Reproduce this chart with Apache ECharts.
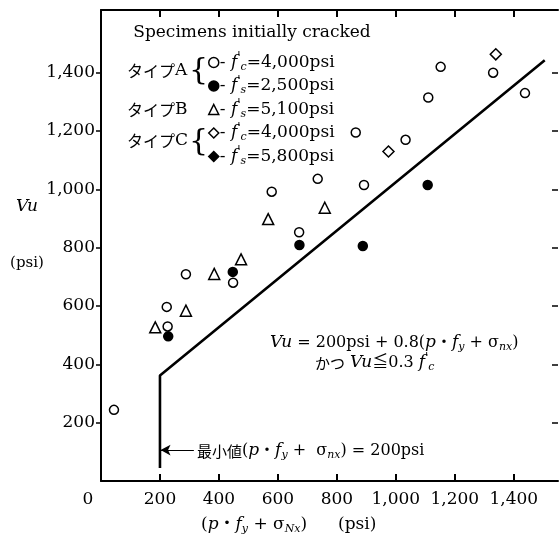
<!DOCTYPE html>
<html>
<head>
<meta charset="utf-8">
<script src="https://cdn.jsdelivr.net/npm/echarts@6/dist/echarts.min.js"></script>
<style>
  html, body { margin: 0; padding: 0; background: #fff; }
  #chart { width: 560px; height: 543px; }
</style>
</head>
<body>
<div id="chart"></div>
<script>
  // 読み取り値 (p·fy + σnx, Vu) psi
  const openCircleA = [[44, 244], [223, 597], [226, 530], [288, 709], [448, 680], [579, 992], [672, 853],
    [735, 1036], [864, 1195], [892, 1015], [1033, 1170], [1110, 1315], [1152, 1420], [1330, 1400], [1438, 1330]];
  const filledCircleA = [[228, 496], [447, 717], [673, 809], [888, 806], [1108, 1015]];
  const triangleB = [[184, 527], [288, 584], [384, 710], [475, 760], [567, 898], [759, 937]];
  const openDiamondC = [[975, 1130], [1339, 1463]];
  const filledDiamondC = [];
  const designLine = [[200, 45], [200, 362], [1505, 1443]];
  const minArrow = [[315, 106], [202, 106]];
  const xTicks = [0, 200, 400, 600, 800, 1000, 1200, 1400];
  const yTicks = [200, 400, 600, 800, 1000, 1200, 1400];
  const legendLabels = [
    '- {i|f}{sp|\'}{sb|c}=4,000psi',
    '- {i|f}{sp|\'}{sb|s}=2,500psi',
    '- {i|f}{sp|\'}{sb|s}=5,100psi',
    '- {i|f}{sp|\'}{sb|c}=4,000psi',
    '- {i|f}{sp|\'}{sb|s}=5,800psi'
  ];
  const seriesNames = ['A-c', 'A-s', 'B-s', 'C-c', 'C-s'];

  const serif = "'DejaVu Serif', 'Noto Sans CJK JP', serif";
  const cjk = "'Noto Sans CJK JP'";
  const rich = {
    i: { fontStyle: 'italic', fontFamily: serif, fontSize: 17 },
    sp: { fontFamily: serif, fontSize: 12, padding: [0, 0, 9, 0] },
    sb: { fontStyle: 'italic', fontFamily: serif, fontSize: 11, padding: [9, 0, 0, 0] },
    z: { fontFamily: serif, fontSize: 17, color: '#000', padding: [0, 26, 0, 0] },
    j: { fontFamily: cjk, fontSize: 16 },
    j15: { fontFamily: cjk, fontSize: 15 }
  };

  const chart = echarts.init(document.getElementById('chart'), null, { renderer: 'canvas' });

  function scatter(name, data, symbol, fill) {
    return {
      name: name,
      type: 'scatter',
      data: data,
      symbol: symbol,
      symbolSize: symbol === 'circle' ? 9 : 11,
      itemStyle: { color: fill, borderColor: '#000', borderWidth: 1.5, opacity: 1 },
      z: 3
    };
  }

  function txt(text, x, y, opts) {
    return {
      type: 'text',
      x: x,
      y: y,
      style: Object.assign({
        text: text,
        fontFamily: serif,
        fontSize: 17,
        fill: '#000',
        align: 'left',
        verticalAlign: 'middle',
        rich: rich
      }, opts || {})
    };
  }

  const frameLine = { show: true, onZero: false, lineStyle: { color: '#000', width: 2 } };

  chart.setOption({
    animation: false,
    backgroundColor: '#fff',
    grid: { left: 101, right: 2, top: 10, bottom: 62 },
    xAxis: [{
      type: 'value',
      min: 0,
      max: 1550,
      interval: 200,
      position: 'bottom',
      axisLine: frameLine,
      axisTick: { show: true, inside: true, length: 7, lineStyle: { color: '#000', width: 2 },
        customValues: xTicks.slice(1) },
      axisLabel: {
        color: '#000', fontFamily: serif, fontSize: 17, margin: 10,
        customValues: xTicks,
        formatter: function (v) {
          return v === 0 ? '{z|0}' : v.toLocaleString('en-US');
        },
        rich: rich
      },
      splitLine: { show: false }
    }, {
      type: 'value',
      min: 0,
      max: 1550,
      interval: 200,
      position: 'top',
      axisLine: frameLine,
      axisTick: { show: true, inside: true, length: 7, lineStyle: { color: '#000', width: 2 },
        customValues: xTicks.slice(1) },
      axisLabel: { show: false },
      splitLine: { show: false }
    }],
    yAxis: [{
      type: 'value',
      min: 0,
      max: 1615,
      interval: 200,
      position: 'left',
      axisLine: frameLine,
      axisTick: { show: true, inside: false, length: 5, lineStyle: { color: '#000', width: 1.5 },
        customValues: yTicks },
      axisLabel: {
        color: '#000', fontFamily: serif, fontSize: 17, margin: 6,
        customValues: yTicks,
        formatter: function (v) { return v.toLocaleString('en-US'); }
      },
      splitLine: { show: false }
    }, {
      type: 'value',
      min: 0,
      max: 1615,
      interval: 200,
      position: 'right',
      axisLine: { show: false, onZero: false },
      axisTick: { show: true, inside: true, length: 6, lineStyle: { color: '#000', width: 1.5 },
        customValues: yTicks },
      axisLabel: { show: false },
      splitLine: { show: false }
    }],
    legend: {
      data: seriesNames,
      orient: 'vertical',
      left: 203,
      top: 47,
      itemWidth: 10,
      itemHeight: 10,
      itemGap: 3,
      itemStyle: { borderWidth: 1.5, opacity: 1 },
      formatter: function (name) { return legendLabels[seriesNames.indexOf(name)]; },
      textStyle: { color: '#000', fontFamily: serif, fontSize: 17, lineHeight: 20, padding: [0, 0, 0, -4], rich: rich },
      selectedMode: false
    },
    series: [
      scatter('A-c', openCircleA, 'circle', '#fff'),
      scatter('A-s', filledCircleA, 'circle', '#000'),
      scatter('B-s', triangleB, 'triangle', '#fff'),
      scatter('C-c', openDiamondC, 'diamond', '#fff'),
      scatter('C-s', filledDiamondC, 'diamond', '#000'),
      {
        name: 'design',
        type: 'line',
        data: designLine,
        symbol: 'none',
        lineStyle: { color: '#000', width: 2.6 },
        z: 2,
        markLine: {
          silent: true,
          symbol: ['none', 'arrow'],
          symbolSize: [8, 10],
          label: { show: false },
          lineStyle: { color: '#000', width: 1.2, type: 'solid' },
          itemStyle: { color: '#000' },
          data: [[{ coord: minArrow[0] }, { coord: minArrow[1] }]]
        }
      }
    ],
    graphic: [
      txt('Specimens initially cracked', 252, 33, { align: 'center' }),
      txt('{j|タイプ}A', 127, 71),
      txt('{', 189, 71, { fontSize: 30, fontWeight: 'lighter' }),
      txt('{j|タイプ}B', 127, 110),
      txt('{j|タイプ}C', 127, 141),
      txt('{', 189, 142, { fontSize: 30, fontWeight: 'lighter' }),
      txt('{i|Vu}', 27, 207, { align: 'center' }),
      txt('(psi)', 27, 263, { align: 'center', fontSize: 15 }),
      txt('({i|p}・{i|f}{sb|y} + σ{sb|Nx})', 201, 525),
      txt('(psi)', 338, 525),
      txt('{i|Vu} = 200psi + 0.8({i|p}・{i|f}{sb|y} + σ{sb|nx})', 270, 343, { fontSize: 16 }),
      txt('{j15|かつ} {i|Vu}≦0.3 {i|f}{sp|\'}{sb|c}', 315, 363, { fontSize: 16 }),
      txt('{j15|最小値}({i|p}・{i|f}{sb|y} +  σ{sb|nx}) = 200psi', 197, 451, { fontSize: 16 })
    ]
  });
</script>
</body>
</html>
